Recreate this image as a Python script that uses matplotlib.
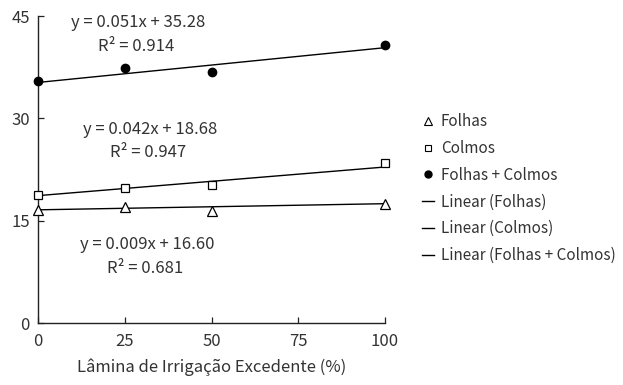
import matplotlib
matplotlib.use("Agg")
import matplotlib.pyplot as plt
from matplotlib.lines import Line2D
import numpy as np

plt.rcParams['font.family'] = ['Noto Sans CJK KR', 'DejaVu Sans']

irrigacao = [0, 25, 50, 100]
folhas = [16.6, 17.0, 16.4, 17.4]
colmos = [18.8, 19.8, 20.2, 23.5]
folhas_colmos = [35.5, 37.4, 36.8, 40.8]

# fitted trend lines: (slope, intercept, R²)
fit_folhas = (0.009, 16.60, 0.681)
fit_colmos = (0.042, 18.68, 0.947)
fit_total = (0.051, 35.28, 0.914)

x_ticks = [0, 25, 50, 75, 100]
y_ticks = [0, 15, 30, 45]

txt = '#333333'
fig = plt.figure(figsize=(6.23, 3.85), dpi=100)
ax = fig.add_axes([0.061, 0.161, 0.557, 0.797])

ax.plot(irrigacao, folhas, ls='none', marker='^', mfc='white', mec='black', mew=0.9, ms=6.5,
        zorder=3, clip_on=False)
ax.plot(irrigacao, colmos, ls='none', marker='s', mfc='white', mec='black', mew=0.9, ms=5.5,
        zorder=3, clip_on=False)
ax.plot(irrigacao, folhas_colmos, ls='none', marker='o', mfc='black', mec='black', ms=6,
        zorder=3, clip_on=False)

xl = np.array([0, 100])
for slope, icpt, _ in (fit_folhas, fit_colmos, fit_total):
    ax.plot(xl, slope * xl + icpt, color='black', lw=1.0, zorder=2, clip_on=False)

ax.set_xlim(0, 100)
ax.set_ylim(0, 45)
ax.set_xticks(x_ticks)
ax.set_yticks(y_ticks)
for s in ('top', 'right'):
    ax.spines[s].set_visible(False)
for s in ('left', 'bottom'):
    ax.spines[s].set_linewidth(1.0)
    ax.spines[s].set_color('#222222')
ax.tick_params(direction='in', length=4, width=0.9, colors='#222222', labelcolor=txt, labelsize=12)
ax.tick_params(axis='x', pad=7)
ax.tick_params(axis='y', pad=6)
ax.set_xlabel('Lâmina de Irrigação Excedente (%)', fontsize=12, color=txt, labelpad=6)
ax.patch.set_alpha(0)

def eq_text(fit, xy):
    slope, icpt, r2 = fit
    ax.text(xy[0], xy[1], f'y = {slope:.3f}x + {icpt:.2f}', fontsize=12, color=txt,
            ha='center', va='center')
    ax.text(xy[0] - 0.5, xy[1] - 3.45, f'R² = {r2:.3f}', fontsize=12, color=txt,
            ha='center', va='center')

eq_text(fit_total, (28.8, 44.0))
eq_text(fit_colmos, (32.3, 28.4))
eq_text(fit_folhas, (31.4, 11.5))

handles = [
    Line2D([], [], ls='none', marker='^', mfc='white', mec='black', mew=0.8, ms=6),
    Line2D([], [], ls='none', marker='s', mfc='white', mec='black', mew=0.8, ms=5),
    Line2D([], [], ls='none', marker='o', mfc='black', mec='black', ms=5),
    Line2D([], [], color='black', lw=1.0),
    Line2D([], [], color='black', lw=1.0),
    Line2D([], [], color='black', lw=1.0),
]
labels = ['Folhas', 'Colmos', 'Folhas + Colmos', 'Linear (Folhas)',
          'Linear (Colmos)', 'Linear (Folhas + Colmos)']
leg = fig.legend(handles, labels, loc='upper left', bbox_to_anchor=(0.677, 0.706),
                 frameon=False, fontsize=11, handlelength=0.8, handletextpad=0.45,
                 labelspacing=0.64, borderaxespad=0, borderpad=0)
for t in leg.get_texts():
    t.set_color(txt)

fig.savefig('out.png', dpi=100)
